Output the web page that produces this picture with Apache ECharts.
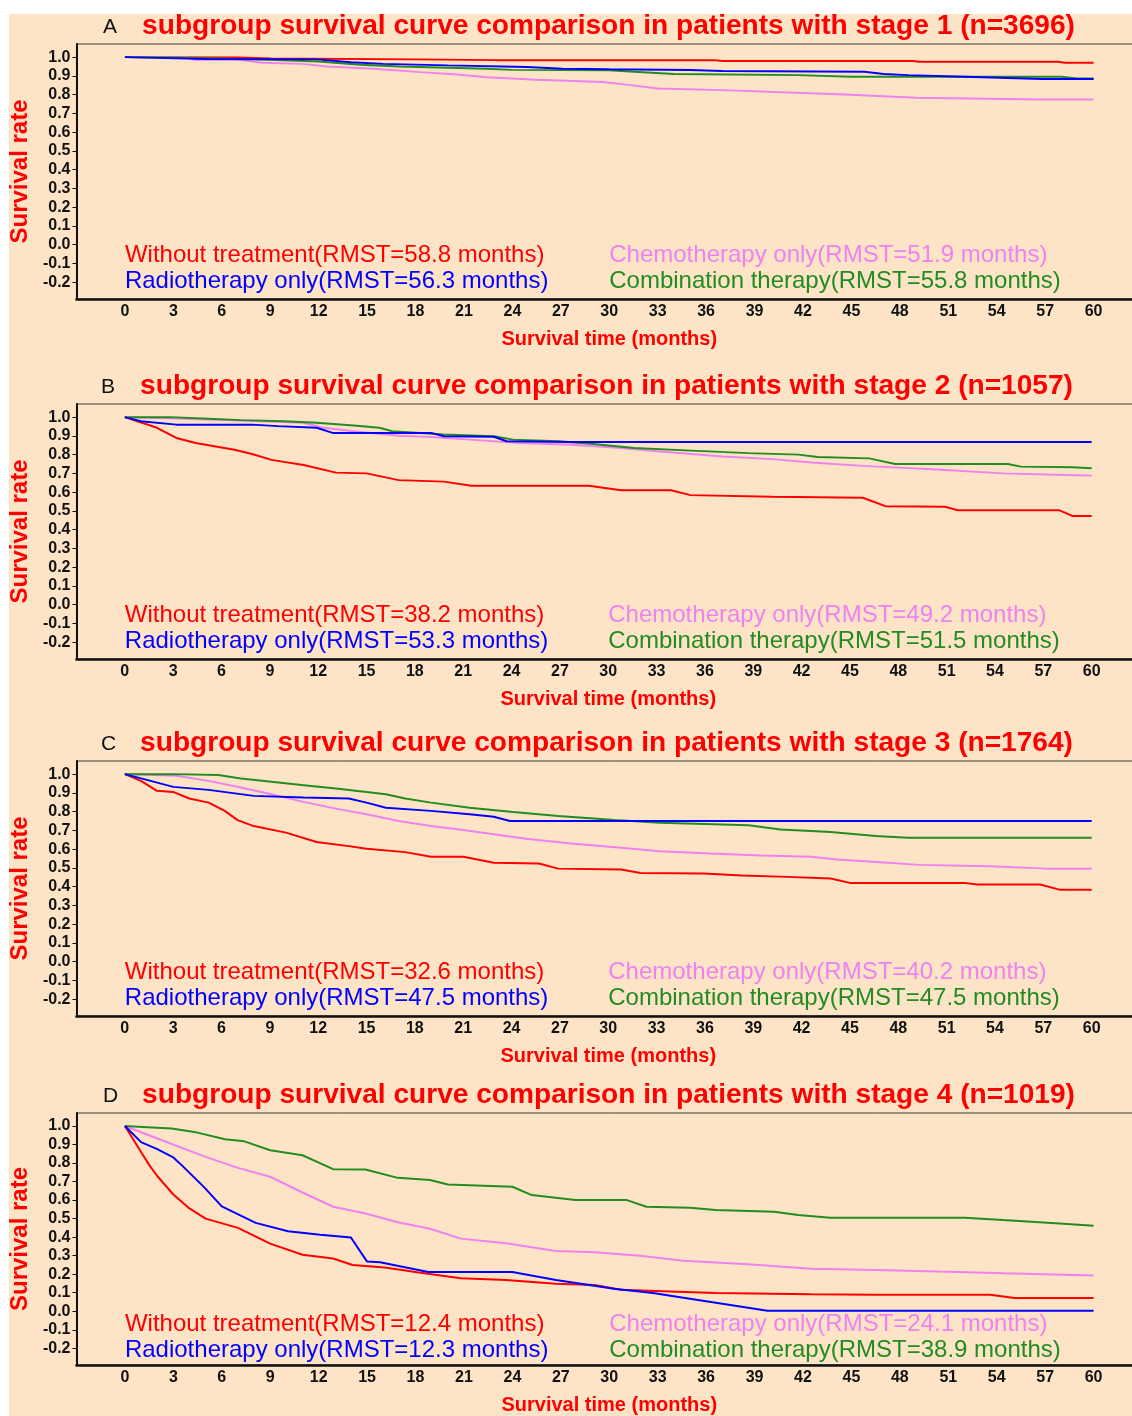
<!DOCTYPE html>
<html><head><meta charset="utf-8">
<script src="https://cdn.jsdelivr.net/npm/echarts@6/dist/echarts.min.js"></script>
<style>
html,body{margin:0;padding:0;width:1132px;height:1416px;overflow:hidden;background:#ffffff;}
#bg{position:absolute;left:9px;top:14px;width:1123px;height:1402px;background:#FDE4C6;}
#chart{position:absolute;left:0;top:0;width:1150px;height:1416px;}
</style></head>
<body><div id="bg"></div><div id="chart"></div>
<script>
// ---------- data ----------
const panelLetters = ['A', 'B', 'C', 'D'];
const stages = [1, 2, 3, 4];
const stageN = [3696, 1057, 1764, 1019];
const groups = ['Without treatment', 'Radiotherapy only', 'Chemotherapy only', 'Combination therapy'];
const groupColors = ['#FF0000', '#0000FF', '#EE82EE', '#228B22'];
const rmstStage1 = [58.8, 56.3, 51.9, 55.8];
const rmstStage2 = [38.2, 53.3, 49.2, 51.5];
const rmstStage3 = [32.6, 47.5, 40.2, 47.5];
const rmstStage4 = [12.4, 12.3, 24.1, 38.9];
const xTicks = [0, 3, 6, 9, 12, 15, 18, 21, 24, 27, 30, 33, 36, 39, 42, 45, 48, 51, 54, 57, 60];
const yTicks = [-0.2, -0.1, 0.0, 0.1, 0.2, 0.3, 0.4, 0.5, 0.6, 0.7, 0.8, 0.9, 1.0];

// stage 1 curves [month, survival]
const s1Without = [[0,1],[7,0.998],[9,0.993],[18,0.988],[23,0.984],[36.5,0.984],[37,0.979],[48.8,0.979],[49.2,0.975],[57.8,0.975],[58.2,0.97],[60,0.97]];
const s1Radio = [[0,1],[2,0.996],[5,0.99],[11.9,0.988],[14,0.973],[16,0.964],[20,0.956],[24.9,0.947],[27.1,0.938],[30,0.935],[35,0.931],[37,0.926],[45.8,0.922],[47,0.91],[48.5,0.904],[52,0.895],[56.8,0.883],[60,0.883]];
const s1Chemo = [[0,1],[3.9,0.998],[4.3,0.986],[7,0.986],[8.5,0.97],[11,0.964],[12.5,0.95],[15.4,0.938],[18.3,0.92],[20.4,0.909],[22.4,0.893],[25.5,0.879],[29.6,0.867],[31.2,0.852],[33,0.833],[37,0.824],[44.6,0.801],[49,0.783],[56.8,0.774],[60,0.774]];
const s1Combo = [[0,1],[2.9,0.998],[9,0.986],[12,0.977],[14.6,0.959],[17,0.95],[22.4,0.938],[24,0.932],[30,0.93],[31,0.925],[34,0.91],[41.7,0.904],[45,0.895],[58,0.895],[59,0.886],[60,0.886]];

// stage 2 curves
const s2Without = [[0,1],[2,0.943],[3.2,0.889],[4.4,0.862],[6.8,0.826],[7.9,0.803],[9.1,0.772],[11.1,0.745],[13.1,0.704],[15,0.7],[17,0.664],[19.8,0.656],[21.5,0.634],[28.8,0.634],[30.8,0.61],[33.9,0.61],[35.1,0.584],[40.2,0.575],[45.8,0.57],[47.2,0.525],[50.9,0.522],[51.7,0.503],[58,0.503],[58.8,0.473],[60,0.473]];
const s2Radio = [[0,1],[1,0.978],[3.2,0.96],[7.9,0.96],[9.5,0.952],[11.9,0.943],[12.9,0.916],[19,0.916],[19.8,0.898],[22.9,0.895],[23.7,0.871],[27.7,0.867],[60,0.867]];
const s2Chemo = [[0,1],[3.2,0.993],[7.2,0.982],[11.1,0.97],[12.3,0.943],[14.2,0.925],[17,0.901],[19,0.894],[21.4,0.88],[24.5,0.862],[27.7,0.853],[30.8,0.835],[33.2,0.817],[37.1,0.79],[40.2,0.776],[42.6,0.758],[45.8,0.74],[50.1,0.722],[54.5,0.7],[58.4,0.691],[60,0.688]];
const s2Combo = [[0,1],[2.8,1],[5.2,0.991],[7.2,0.984],[9.9,0.978],[11.9,0.97],[14.2,0.955],[15.8,0.943],[16.6,0.925],[19.8,0.907],[22.9,0.898],[24.1,0.88],[26.9,0.871],[28.9,0.858],[31.6,0.835],[35.5,0.82],[38.7,0.808],[41.8,0.8],[43,0.787],[46.2,0.78],[47.8,0.75],[54.8,0.75],[55.6,0.736],[58.8,0.733],[60,0.727]];

// stage 3 curves
const s3Without = [[0,1],[1,0.964],[2,0.911],[3,0.905],[4,0.87],[5.2,0.848],[6.2,0.804],[7,0.755],[8,0.723],[10,0.688],[11.9,0.638],[13.9,0.616],[15,0.602],[17.4,0.584],[19,0.559],[21,0.559],[22.9,0.527],[25.7,0.523],[26.9,0.496],[30.8,0.491],[32,0.473],[35.9,0.47],[38.3,0.459],[41.1,0.452],[43.8,0.443],[45,0.42],[52.1,0.42],[52.9,0.411],[56.8,0.411],[58,0.384],[60,0.384]];
const s3Radio = [[0,1],[1.6,0.964],[3,0.932],[5.2,0.916],[8,0.884],[11.1,0.875],[13.9,0.87],[15,0.848],[16.2,0.821],[19,0.804],[21.4,0.786],[22.9,0.773],[23.9,0.75],[60,0.75]];
const s3Chemo = [[0,1],[3.2,0.991],[5.2,0.964],[7.2,0.929],[9.1,0.893],[11.1,0.852],[13.1,0.816],[15,0.786],[17,0.75],[19,0.723],[21,0.702],[22.9,0.679],[24.9,0.655],[27.7,0.63],[30.8,0.607],[33.2,0.589],[36.3,0.577],[39.5,0.566],[42.6,0.559],[44.2,0.545],[46.9,0.53],[49.3,0.516],[53.7,0.509],[57.2,0.496],[60,0.496]];
const s3Combo = [[0,1],[3,1],[5.8,0.995],[7.2,0.977],[9.1,0.959],[11.1,0.941],[13.1,0.923],[15,0.905],[16.2,0.893],[17.4,0.87],[19,0.848],[21.4,0.821],[24.1,0.798],[26.9,0.777],[30.4,0.755],[33.2,0.741],[38.7,0.727],[40.7,0.705],[43.8,0.691],[46.6,0.67],[48.6,0.661],[60,0.661]];

// stage 4 curves
const s4Without = [[0,1],[0.5,0.93],[1,0.86],[1.5,0.79],[2,0.73],[3,0.63],[4,0.555],[5,0.5],[7,0.45],[9,0.365],[11,0.305],[12.9,0.285],[14.1,0.25],[16.1,0.236],[18.1,0.211],[20.8,0.178],[23.6,0.169],[26.7,0.148],[29.1,0.142],[30.7,0.116],[33.8,0.107],[36.6,0.098],[42.5,0.092],[46.5,0.089],[53.6,0.089],[55.1,0.071],[60,0.071]];
const s4Radio = [[0,1],[1,0.913],[2,0.875],[3,0.83],[3.5,0.79],[4.9,0.67],[6,0.566],[8.1,0.477],[10.1,0.432],[12.1,0.413],[14,0.398],[15,0.268],[15.8,0.265],[18.8,0.212],[24,0.212],[26.7,0.169],[30.3,0.121],[32.7,0.098],[35.4,0.062],[39.8,0.003],[60,0.003]];
const s4Chemo = [[0,1],[3.1,0.896],[5,0.833],[7,0.774],[9,0.726],[11,0.641],[12.9,0.564],[14.9,0.528],[16.9,0.48],[18.9,0.445],[20.8,0.392],[23.6,0.367],[26.7,0.325],[29.1,0.318],[31.9,0.3],[34.6,0.272],[38.6,0.254],[42.5,0.229],[46.5,0.223],[50.4,0.214],[54.4,0.205],[60,0.193]];
const s4Combo = [[0,1],[1.1,0.995],[2.9,0.986],[4.3,0.968],[6.2,0.928],[7.4,0.917],[9,0.869],[11,0.842],[12.9,0.767],[14.9,0.765],[16.9,0.72],[18.9,0.708],[20,0.684],[24,0.672],[25.2,0.627],[27.9,0.6],[31.1,0.6],[32.3,0.564],[35,0.559],[36.6,0.546],[40.2,0.537],[41.7,0.519],[43.7,0.505],[52,0.505],[54.4,0.492],[57.9,0.474],[60,0.462]];

// ---------- assembly ----------
const panelCurves = [
  [s1Without, s1Radio, s1Chemo, s1Combo],
  [s2Without, s2Radio, s2Chemo, s2Combo],
  [s3Without, s3Radio, s3Chemo, s3Combo],
  [s4Without, s4Radio, s4Chemo, s4Combo]
];
const panelRmst = [rmstStage1, rmstStage2, rmstStage3, rmstStage4];

const FONT = '"Liberation Sans", Arial, Helvetica, sans-serif';
const gridTops = [44, 404, 761, 1113];
const gridLefts = [75, 73, 73, 75];
const gridH = 255;
const xMin = -3, xMax = 63;
const pxPerMonth = 16.167;
const gridW = (xMax - xMin) * pxPerMonth;

const chart = echarts.init(document.getElementById('chart'), null, {renderer: 'canvas'});

const grids = [], xAxes = [], yAxes = [], series = [];
for (let p = 0; p < 4; p++) {
  grids.push({
    left: gridLefts[p], top: gridTops[p], width: gridW, height: gridH,
    show: true, borderColor: '#3a3a3a', borderWidth: 1, backgroundColor: 'transparent'
  });
  xAxes.push({
    gridIndex: p, type: 'value', min: xMin, max: xMax,
    name: 'Survival time (months)', nameLocation: 'middle', nameGap: 30,
    nameTextStyle: {color: '#FF0000', fontSize: 20, fontWeight: 'bold', fontFamily: FONT},
    axisLine: {show: true, onZero: false, lineStyle: {color: '#111', width: 2.5}},
    axisTick: {show: false},
    splitLine: {show: false},
    axisLabel: {
      customValues: xTicks, margin: 5,
      color: '#111', fontSize: 16, fontWeight: 'bold', fontFamily: FONT,
      formatter: v => String(v)
    }
  });
  yAxes.push({
    gridIndex: p, type: 'value', min: -0.29, max: 1.07,
    name: 'Survival rate', nameLocation: 'middle', nameGap: 34, nameRotate: 90,
    nameTextStyle: {color: '#FF0000', fontSize: 24, fontWeight: 'bold', fontFamily: FONT},
    axisLine: {show: true, onZero: false, lineStyle: {color: '#111', width: 2}},
    axisTick: {show: true, customValues: yTicks, length: 4, inside: false, lineStyle: {color: '#111', width: 1}},
    splitLine: {show: false},
    axisLabel: {
      customValues: yTicks, margin: 6,
      color: '#111', fontSize: 16, fontWeight: 'bold', fontFamily: FONT,
      formatter: v => (Math.abs(v) < 1e-9 ? 0 : v).toFixed(1)
    }
  });
  const drawOrder = [0, 2, 3, 1];
  drawOrder.forEach((g, k) => {
    series.push({
      type: 'line', xAxisIndex: p, yAxisIndex: p,
      name: groups[g],
      data: panelCurves[p][g],
      symbol: 'none', showSymbol: false, smooth: false,
      lineStyle: {color: groupColors[g], width: 2},
      itemStyle: {color: groupColors[g]},
      z: 2 + k, silent: true, animation: false
    });
  });
}

chart.setOption({
  backgroundColor: 'transparent',
  animation: false,
  grid: grids, xAxis: xAxes, yAxis: yAxes, series: series
});

// ---------- text (titles and in-plot legends) ----------
const graphics = [];
for (let p = 0; p < 4; p++) {
  const top = gridTops[p];
  const left = gridLefts[p];
  graphics.push({
    type: 'text', x: left + gridW / 2, y: top - 18, silent: true,
    style: {
      text: 'subgroup survival curve comparison in patients with stage ' + stages[p] + ' (n=' + stageN[p] + ')',
      font: 'bold 28.1px ' + FONT, fill: '#FF0000', align: 'center', verticalAlign: 'middle'
    }
  });
  graphics.push({
    type: 'text', x: left + 28, y: top - 17, silent: true,
    style: {text: panelLetters[p], font: '21px ' + FONT, fill: '#111', align: 'left', verticalAlign: 'middle'}
  });
  const x0 = chart.convertToPixel({xAxisIndex: p}, 0);
  const x30 = chart.convertToPixel({xAxisIndex: p}, 30);
  const legendPos = [[x0, top + 211], [x0, top + 237], [x30, top + 211], [x30, top + 237]];
  for (let g = 0; g < 4; g++) {
    graphics.push({
      type: 'text', x: legendPos[g][0], y: legendPos[g][1], silent: true,
      style: {
        text: groups[g] + '(RMST=' + panelRmst[p][g].toFixed(1) + ' months)',
        font: '24px ' + FONT, fill: groupColors[g], align: 'left', verticalAlign: 'middle'
      }
    });
  }
}
chart.setOption({graphic: graphics});
</script>
</body></html>
